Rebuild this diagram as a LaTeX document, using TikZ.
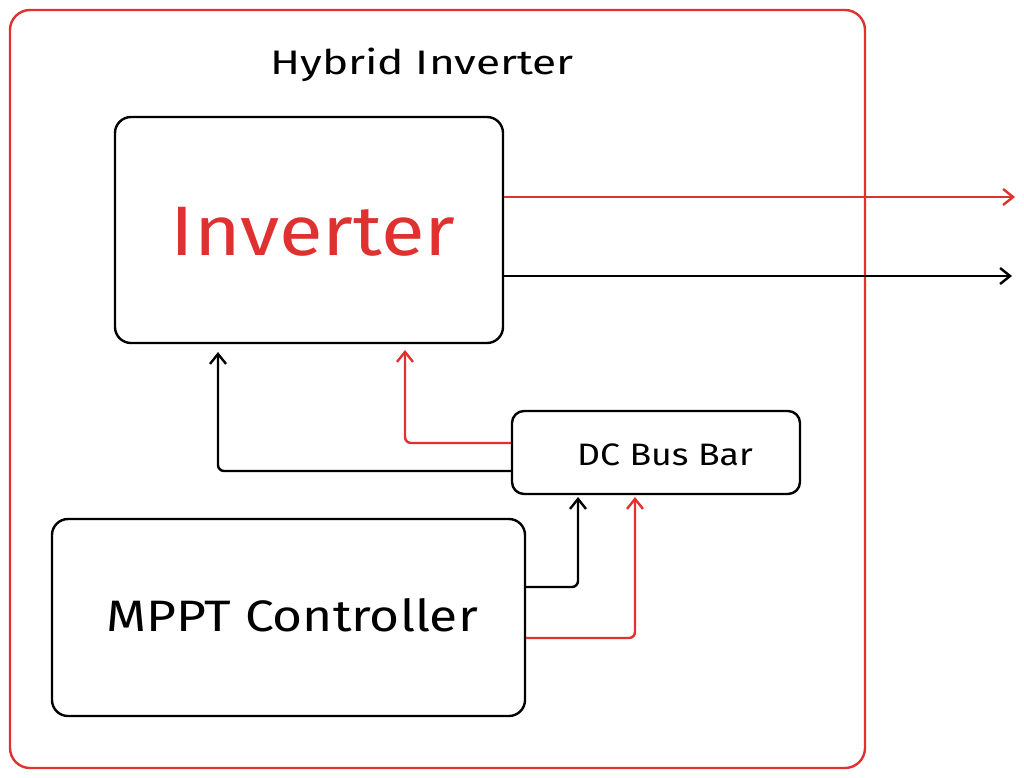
\documentclass[tikz,border=0pt]{standalone}
\usepackage{fontspec}
\setmainfont{Fira Sans}
\usetikzlibrary{arrows.meta}
\definecolor{myred}{HTML}{E03131}
\begin{document}
\begin{tikzpicture}[x=1pt,y=-1pt,
  box/.style={draw=black,line width=2.4pt,rounded corners=16pt},
  con/.style={line width=2.4pt,-{Straight Barb[length=10pt,width=16pt]}},
  rcon/.style={con,draw=myred}]
\useasboundingbox (0,0) rectangle (1024,777);
\draw[draw=myred,line width=2.4pt,rounded corners=20pt] (10,10) rectangle (865,768);
\node[xscale=1.3] (title) at (422,65) {\fontsize{34}{40}\selectfont Hybrid Inverter};
\node[box,minimum width=388pt,minimum height=226pt] (inv) at (309,230) {};
\node[text=myred,xscale=1.14] (invt) at (313,232) {\fontsize{70}{80}\selectfont Inverter};
\node[box,rounded corners=12pt,minimum width=288pt,minimum height=83pt] (bus) at (656,452.5) {};
\node[xscale=1.15] (bust) at (665,455) {\fontsize{31}{36}\selectfont DC Bus Bar};
\node[box,minimum width=473pt,minimum height=197pt] (mppt) at (288.5,617.5) {};
\node[xscale=1.17] (mpptt) at (292,615) {\fontsize{44}{50}\selectfont MPPT Controller};
\coordinate (o1) at (1015,197);
\coordinate (o2) at (1012,276);
\draw[rcon] (inv.east |- o1) -- (o1);
\draw[con] (inv.east |- o2) -- (o2);
\draw[con,rounded corners=6pt] (bus.west |- 0,471) -- (218,471) -- (218,352);
\draw[rcon,rounded corners=6pt] (bus.west |- 0,443) -- (405,443) -- (405,350);
\draw[con,rounded corners=6pt] (mppt.east |- 0,587) -- (578,587) -- (578,497);
\draw[rcon,rounded corners=6pt] (mppt.east |- 0,638) -- (635,638) -- (635,497);
\end{tikzpicture}
\end{document}
